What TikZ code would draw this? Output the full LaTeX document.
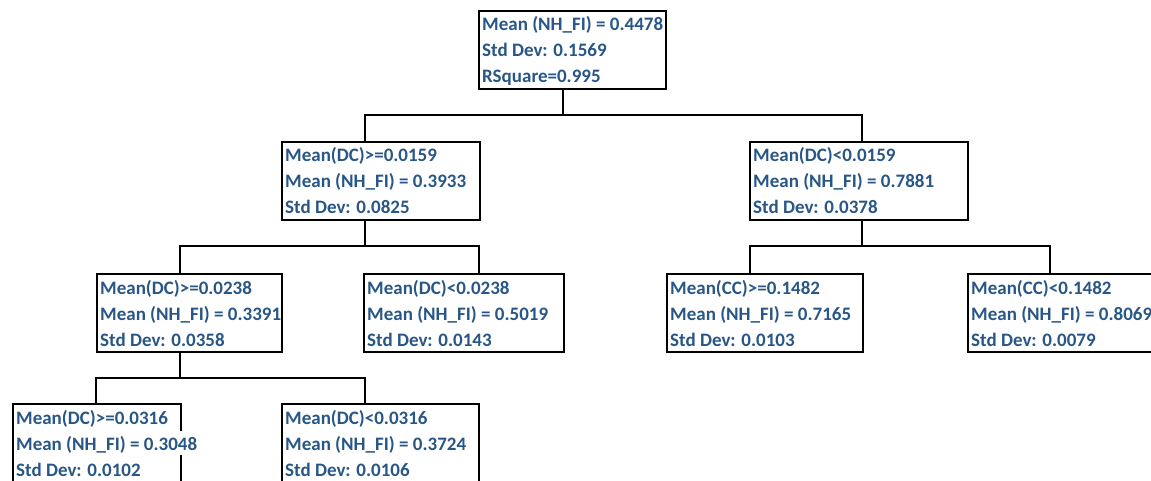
\documentclass[tikz,border=0pt]{standalone}
\usepackage{fontspec}
\setmainfont{Carlito}
\definecolor{tcol}{RGB}{40,86,134}
\tikzset{
  boxst/.style={draw=black, line width=2pt, inner sep=0pt, rectangle},
  txt/.style={anchor=base west, inner sep=0pt, text=tcol, text height=19pt, text depth=5pt,
    font=\bfseries\fontsize{19}{23}\selectfont},
  ovf/.style={fill=white},
  conn/.style={draw=black, line width=2pt}
}
\newcommand\tbox[9]{%
  \node[boxst, minimum width=#4pt, minimum height=#5pt, anchor=north west] (#1) at (#2,#3) {};
  \node[txt,#6] (#1-2) at ([xshift=4pt,yshift=-47pt]#1.north west) {#8};
  \node[txt] (#1-1) at ([xshift=4pt,yshift=-21pt]#1.north west) {#7};
  \node[txt] (#1-3) at ([xshift=4pt,yshift=-73pt]#1.north west) {#9};
}
\begin{document}
\begin{tikzpicture}[x=1pt,y=-1pt]
\useasboundingbox (0,0) rectangle (1151,481);
\tbox{root}{478}{10}{187}{78}{}{Mean (NH\_FI) = 0.4478}{Std Dev: 0.1569}{RSquare=0.995}
\tbox{La}{281}{141}{198}{78}{}{Mean(DC)>=0.0159}{Mean (NH\_FI) = 0.3933}{Std Dev: 0.0825}
\tbox{Lb}{749}{141}{218}{78}{}{Mean(DC)<0.0159}{Mean (NH\_FI) = 0.7881}{Std Dev: 0.0378}
\tbox{Ma}{96}{273}{185}{78}{}{Mean(DC)>=0.0238}{Mean (NH\_FI) = 0.3391}{Std Dev: 0.0358}
\tbox{Mb}{363}{273}{200}{78}{}{Mean(DC)<0.0238}{Mean (NH\_FI) = 0.5019}{Std Dev: 0.0143}
\tbox{Mc}{666}{273}{196}{78}{}{Mean(CC)>=0.1482}{Mean (NH\_FI) = 0.7165}{Std Dev: 0.0103}
\tbox{Md}{967}{273}{200}{78}{}{Mean(CC)<0.1482}{Mean (NH\_FI) = 0.8069}{Std Dev: 0.0079}
\tbox{Na}{12}{403}{168}{100}{ovf}{Mean(DC)>=0.0316}{Mean (NH\_FI) = 0.3048}{Std Dev: 0.0102}
\tbox{Nb}{281}{403}{197}{100}{}{Mean(DC)<0.0316}{Mean (NH\_FI) = 0.3724}{Std Dev: 0.0106}
% connectors
\coordinate (c0) at (563,115);
\coordinate (c1a) at (365,115);
\coordinate (c1b) at (862,115);
\draw[conn] (c0 |- root.south) -- (c0);
\draw[conn] (c1a |- La.north) -- (c1a) -- (c1b) -- (c1b |- Lb.north);
\coordinate (c2m) at (365,246);
\coordinate (c2a) at (180,246);
\coordinate (c2b) at (479,246);
\draw[conn] (c2m |- La.south) -- (c2m);
\draw[conn] (c2a |- Ma.north) -- (c2a) -- (c2b) -- (c2b |- Mb.north);
\coordinate (c2n) at (862,246);
\coordinate (c2c) at (750,246);
\coordinate (c2d) at (1050,246);
\draw[conn] (c2n |- Lb.south) -- (c2n);
\draw[conn] (c2c |- Mc.north) -- (c2c) -- (c2d) -- (c2d |- Md.north);
\coordinate (c3m) at (180,378);
\coordinate (c3a) at (96,378);
\coordinate (c3b) at (365,378);
\draw[conn] (c3m |- Ma.south) -- (c3m);
\draw[conn] (c3a |- Na.north) -- (c3a) -- (c3b) -- (c3b |- Nb.north);
\end{tikzpicture}
\end{document}
